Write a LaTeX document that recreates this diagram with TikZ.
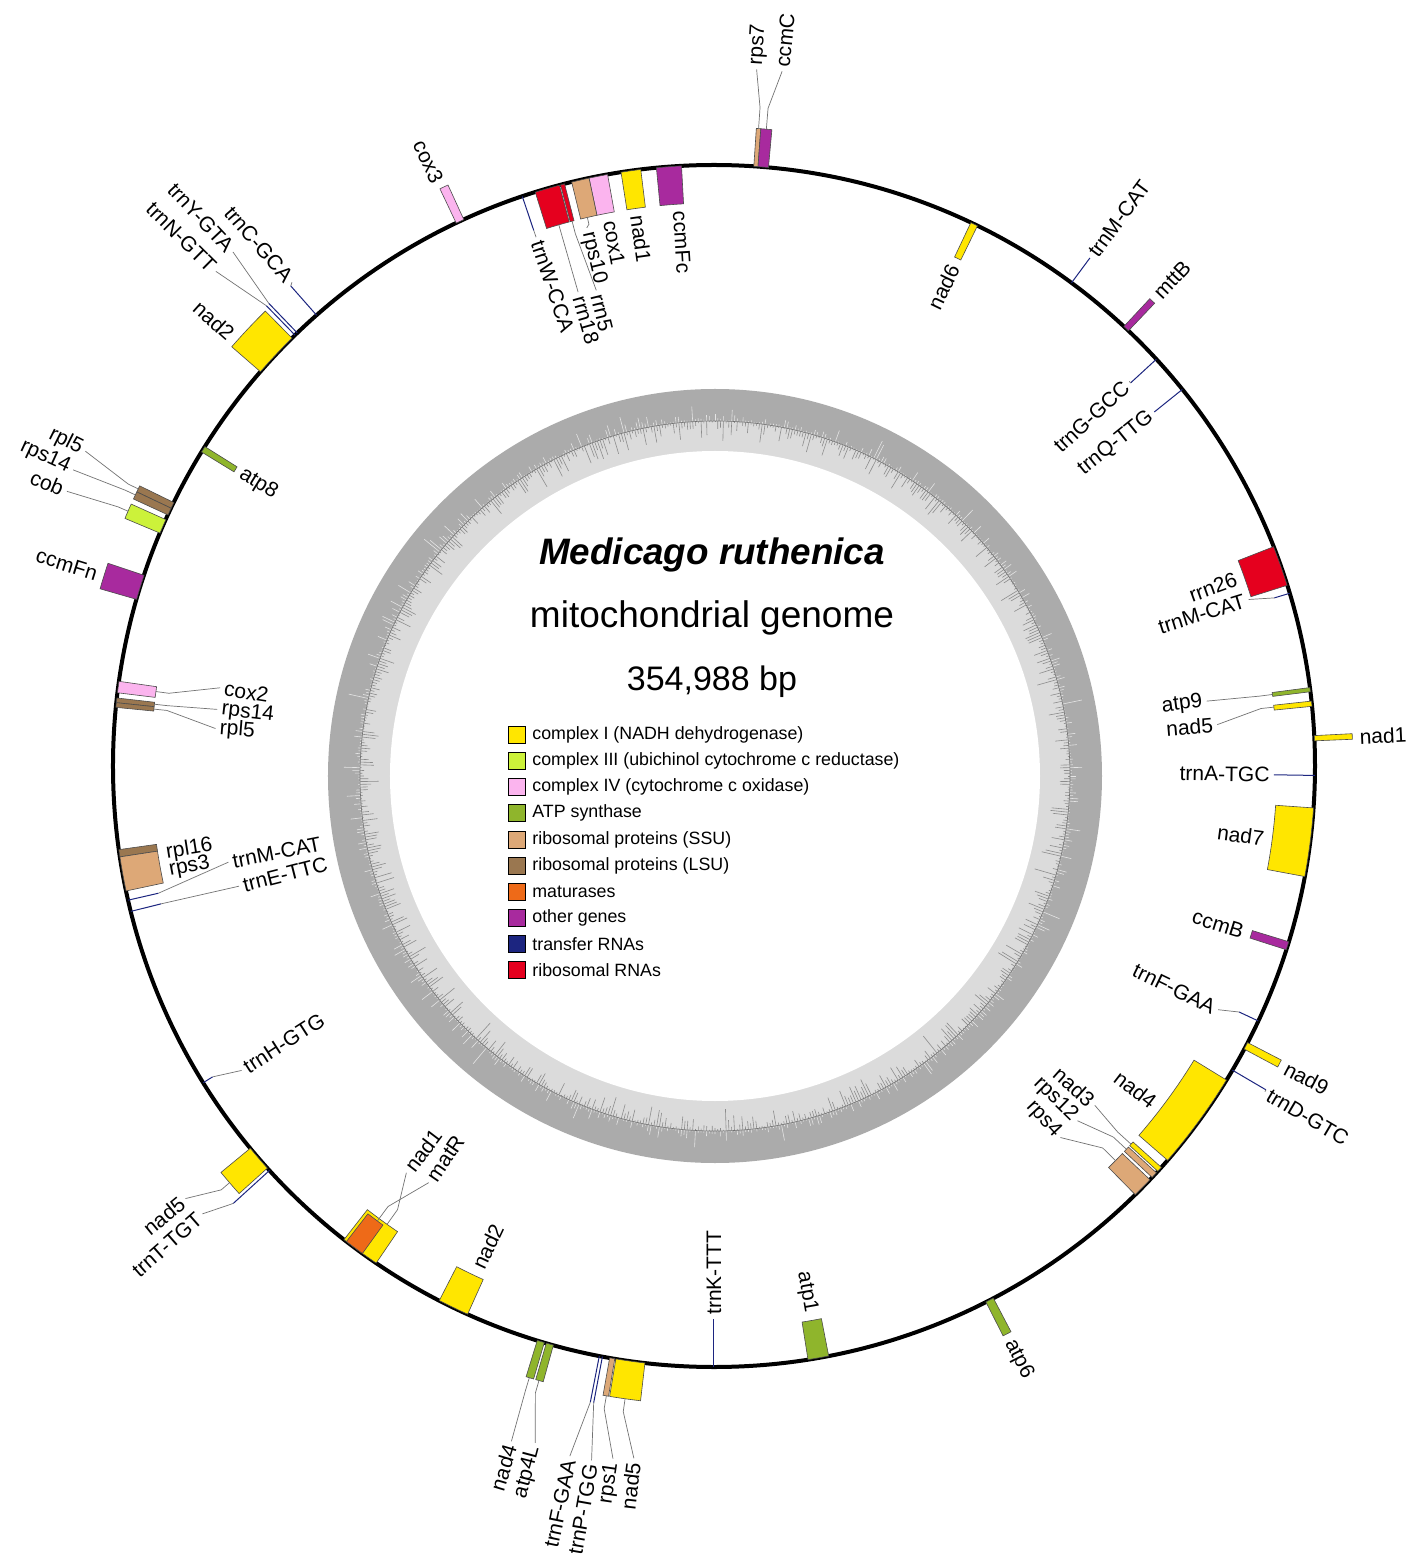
\documentclass[tikz,border=0pt]{standalone}
\usepackage{fontspec}
\setmainfont{Liberation Sans}
\definecolor{cI}{HTML}{FFE600}
\definecolor{cIII}{HTML}{CCF23A}
\definecolor{cIV}{HTML}{FBB4EE}
\definecolor{cATP}{HTML}{8FB52C}
\definecolor{cSSU}{HTML}{DDA877}
\definecolor{cLSU}{HTML}{9A7750}
\definecolor{cMAT}{HTML}{EE6A18}
\definecolor{cOTH}{HTML}{A82A9E}
\definecolor{cTRN}{HTML}{1C2580}
\definecolor{cRRN}{HTML}{E5001E}
\newcount\labn
\newcommand{\gb}[5]{%
 \pgfmathsetmacro\gA{90-(#1)}\pgfmathsetmacro\gB{90-(#2)}%
 \filldraw[fill=#3, draw=black!70, line width=0.3pt] (\gA:#4) arc[start angle=\gA, end angle=\gB, radius={#4*0.5pt}] -- (\gB:#5) arc[start angle=\gB, end angle=\gA, radius={#5*0.5pt}] -- cycle;}
\newcommand{\gl}[3]{\pgfmathsetmacro\gA{90-(#1)}\draw[trna] (\gA:#2) -- (\gA:#3);}
\newcommand{\glabc}[8]{%
 \pgfmathsetmacro\gA{90-(#1)}\pgfmathsetmacro\lphi{90-(#4)}%
 \draw[leader] (\gA:#2) -- (\gA:#3) -- (\lphi:#5);
 \global\advance\labn by 1
 \pgfmathsetmacro\lr{#5+#7}%
 \pgfmathtruncatemacro\isleft{((#4<0) || (#4>=180)) ? 1 : 0}%
 \ifnum\isleft=1 \pgfmathsetmacro\lrot{\lphi+180}\else \let\lrot\lphi\fi
 \ifnum\isleft=#8 \def\lanc{east}\else \def\lanc{west}\fi
 \node[glabel, anchor=\lanc, rotate=\lrot] (lab\the\labn) at (\lphi:\lr) {#6};}
\newcommand{\ilab}[6]{\glabc{#1}{#2}{#3}{#4}{#5}{#6}{-3}{0}}
\newcommand{\olab}[6]{\glabc{#1}{#2}{#3}{#4}{#5}{#6}{3}{1}}
\begin{document}
\begin{tikzpicture}[x=0.5pt,y=0.5pt,
  trna/.style={draw=cTRN, line width=0.5pt},
  leader/.style={draw=black!55, line width=0.35pt},
  glabel/.style={inner sep=0.5pt, font=\fontsize{10.5}{12}\selectfont},
  legbox/.style={draw=black, line width=0.4pt, minimum size=8.5pt, inner sep=0pt},
  legtext/.style={anchor=west, inner sep=0pt, font=\fontsize{8.9}{10}\selectfont}]
\useasboundingbox (-714,-797) rectangle (703,766);
\fill[white] (-714,-797) rectangle (703,766);
% GC ring
\begin{scope}[shift={(1,-10)}]
\fill[black!33] (0,0) circle[radius=193.5pt];
\fill[black!14] (0,0) circle[radius=177.5pt];
\pgfmathsetseed{11}
\foreach \a in {0,0.45,...,359.6}{
  \pgfmathsetmacro\lo{1+rnd*rnd*rnd*22}\pgfmathsetmacro\li{1+rnd*rnd*24}
  \draw[black!10, line width=0.3pt] (\a:355) -- (\a:{355+\lo});
  \draw[black!45, line width=0.3pt] (\a:355) -- (\a:{355-\li});
}
\draw[black!55, line width=0.3pt] (0,0) circle[radius=177.5pt];
\fill[white] (0,0) circle[radius=162.5pt];
\end{scope}
% main circle
\draw[line width=2pt] (0,0) circle[radius=300.5pt];
% inside genes
\gb{-3.1}{-5.5}{cOTH}{563}{601}
\gb{-7.0}{-8.9}{cI}{563}{601}
\gb{-10.2}{-12.0}{cIV}{563}{601}
\gb{-12.0}{-13.7}{cSSU}{563}{601}
\gb{-14.4}{-14.8}{cRRN}{563}{601}
\gb{-14.9}{-17.3}{cRRN}{563}{601}
\gl{-18.6}{601}{565}
\gb{-57.9}{-58.5}{cATP}{563}{601}
\gb{-81.9}{-83.0}{cIV}{563}{601}
\gb{-83.5}{-83.95}{cLSU}{563}{601}
\gb{-83.95}{-84.4}{cLSU}{563}{601}
\gb{-98.0}{-98.7}{cLSU}{563}{601}
\gb{-98.7}{-102.0}{cSSU}{563}{601}
\gl{-102.9}{601}{570}
\gl{-104.0}{601}{570}
\gl{-121.8}{601}{590}
\gb{-142.0}{-145.8}{cI}{563}{601}
\gb{-142.3}{-144.2}{cMAT}{566}{601}
\gb{-152.8}{-155.8}{cI}{563}{601}
\gl{-180}{601}{553}
\gb{169.0}{171.0}{cATP}{563}{601}
\gb{121.5}{131.0}{cI}{563}{601}
\gb{131.9}{132.4}{cI}{563}{601}
\gb{132.6}{133.2}{cSSU}{563}{601}
\gb{133.5}{135.5}{cSSU}{563}{601}
\gb{107.0}{107.8}{cOTH}{563}{601}
\gl{115.1}{601}{580}
\gb{94.0}{100.6}{cI}{563}{601}
\gl{90.9}{601}{560}
\gb{83.8}{84.3}{cI}{563}{601}
\gb{82.5}{82.9}{cATP}{563}{601}
\gl{73.3}{601}{585}
\gb{68.6}{72.5}{cRRN}{563}{601}
\gl{47.4}{601}{566}
\gl{51.2}{601}{565}
\gb{25.3}{26.0}{cI}{563}{601}
% outside genes
\gb{-24.6}{-25.4}{cIV}{601}{639}
\gb{3.8}{4.2}{cSSU}{601}{639}
\gb{4.2}{5.2}{cOTH}{601}{639}
\gl{36.5}{601}{632}
\gb{43.0}{43.6}{cOTH}{601}{639}
\gb{87.1}{87.6}{cI}{601}{639}
\gb{117.4}{118.1}{cI}{601}{639}
\gl{120.4}{601}{640}
\gb{152.3}{153.1}{cATP}{601}{639}
\gb{-170.6}{-173.4}{cI}{601}{639}
\gb{-170.0}{-170.5}{cSSU}{601}{639}
\gl{-169.0}{601}{648}
\gl{-169.3}{601}{648}
\gb{-163.8}{-164.5}{cATP}{601}{639}
\gb{-162.9}{-163.6}{cATP}{601}{639}
\gb{-129.5}{-132.0}{cI}{601}{639}
\gl{-132.3}{601}{650}
\gb{-44.6}{-49.0}{cI}{601}{639}
\gl{-43.9}{601}{642}
\gl{-44.2}{601}{642}
\gl{-41.4}{601}{640}
\gb{-64.0}{-64.6}{cLSU}{601}{639}
\gb{-64.6}{-65.3}{cLSU}{601}{639}
\gb{-65.8}{-67.2}{cIII}{601}{639}
\gb{-71.5}{-73.9}{cOTH}{601}{639}
% inside labels
\ilab{-3.5}{560}{560}{-3.5}{560}{ccmFc}
\ilab{-7.9}{560}{560}{-7.9}{560}{nad1}
\ilab{-10.8}{559}{559}{-10.8}{559}{cox1}
\ilab{-13.0}{563}{556}{-13.3}{553}{rps10}
\ilab{-14.6}{563}{550}{-13.9}{490}{rrn5}
\ilab{-16.0}{563}{550}{-16.0}{493}{rrn18}
\ilab{-18.6}{565}{565}{-18.6}{558}{trnW-CCA}
\ilab{-58.2}{561}{561}{-58.2}{561}{atp8}
\ilab{-82.4}{563}{550}{-81.0}{500}{cox2}
\ilab{-83.7}{563}{550}{-83.5}{500}{rps14}
\ilab{-84.2}{563}{550}{-85.7}{500}{rpl5}
\ilab{-99.0}{559}{559}{-99.0}{559}{rpl16}
\ilab{-100.9}{559}{559}{-100.9}{559}{rps3}
\ilab{-102.9}{570}{570}{-101.2}{495}{trnM-CAT}
\ilab{-104.0}{570}{570}{-104.2}{490}{trnE-TTC}
\ilab{-121.8}{590}{590}{-122.8}{562}{trnH-GTG}
\ilab{-144.5}{563}{545}{-142.9}{510}{nad1}
\ilab{-143.5}{566}{548}{-145.6}{505}{matR}
\ilab{-154.8}{559}{559}{-154.8}{559}{nad2}
\ilab{-180}{553}{553}{-180}{553}{trnK-TTT}
\ilab{170.0}{559}{559}{170.0}{559}{atp1}
\ilab{127.5}{559}{559}{127.5}{559}{nad4}
\ilab{132.2}{563}{545}{131.7}{510}{nad3}
\ilab{132.9}{563}{545}{134.3}{508}{rps12}
\ilab{134.5}{563}{545}{137.0}{508}{rps4}
\ilab{107.4}{559}{559}{107.4}{559}{ccmB}
\ilab{115.1}{580}{580}{115.8}{560}{trnF-GAA}
\ilab{97.5}{559}{559}{97.5}{559}{nad7}
\ilab{90.9}{560}{560}{90.9}{560}{trnA-TGC}
\ilab{84.0}{563}{550}{85.3}{505}{nad5}
\ilab{82.7}{563}{550}{82.5}{497}{atp9}
\ilab{73.3}{585}{585}{72.7}{560}{trnM-CAT}
\ilab{70.3}{559}{559}{70.3}{559}{rrn26}
\ilab{47.4}{566}{566}{47.2}{566}{trnG-GCC}
\ilab{51.2}{565}{565}{51.2}{565}{trnQ-TTG}
\ilab{25.6}{559}{559}{25.6}{559}{nad6}
% outside labels
\olab{-25.3}{642}{642}{-25.3}{642}{cox3}
\olab{4.0}{639}{660}{3.5}{698}{rps7}
\olab{4.7}{639}{660}{5.6}{698}{ccmC}
\olab{36.5}{632}{632}{36.5}{632}{trnM-CAT}
\olab{43.3}{642}{642}{43.3}{642}{mttB}
\olab{87.4}{642}{642}{87.4}{642}{nad1}
\olab{117.8}{642}{642}{117.8}{642}{nad9}
\olab{120.4}{640}{640}{120.6}{640}{trnD-GTC}
\olab{152.8}{642}{642}{152.8}{642}{atp6}
\olab{-172.0}{639}{652}{-173.4}{697}{nad5}
\olab{-170.3}{639}{652}{-171.7}{700}{rps1}
\olab{-169.3}{648}{648}{-170.0}{705}{trnP-TGG}
\olab{-169.0}{648}{648}{-168.2}{705}{trnF-GAA}
\olab{-164.1}{639}{652}{-165.2}{700}{atp4L}
\olab{-163.2}{639}{652}{-163.3}{705}{nad4}
\olab{-130.7}{639}{650}{-129.3}{683}{nad5}
\olab{-132.3}{650}{650}{-131.2}{680}{trnT-TGT}
\olab{-48.3}{642}{642}{-48.3}{642}{nad2}
\olab{-44.2}{642}{642}{-45.2}{702}{trnN-GTT}
\olab{-43.9}{642}{642}{-43.1}{704}{trnY-GTA}
\olab{-41.4}{640}{640}{-41.1}{642}{trnC-GCA}
\olab{-64.3}{639}{650}{-63.4}{703}{rpl5}
\olab{-64.9}{639}{650}{-65.2}{706}{rps14}
\olab{-66.5}{639}{650}{-67.0}{703}{cob}
\olab{-72.7}{642}{642}{-72.7}{642}{ccmFn}
% title
\node[font=\fontsize{18.4}{22}\selectfont\bfseries\itshape] (title) at (-2,211) {Medicago ruthenica};
\node[font=\fontsize{18.5}{22}\selectfont] (sub) at (-2,148) {mitochondrial genome};
\node[font=\fontsize{17}{20}\selectfont] (size) at (-2,84) {354,988 bp};
% legend
\foreach \c/\t [count=\i] in {cI/{complex I (NADH dehydrogenase)},cIII/{complex III (ubichinol cytochrome c reductase)},cIV/{complex IV (cytochrome c oxidase)},cATP/{ATP synthase},cSSU/{ribosomal proteins (SSU)},cLSU/{ribosomal proteins (LSU)},cMAT/{maturases},cOTH/{other genes},cTRN/{transfer RNAs},cRRN/{ribosomal RNAs}}{
  \node[legbox, fill=\c] (lb\i) at (-197.5,{31-26.1*(\i-1)}) {};
  \node[legtext] (lt\i) at (-182,{31-26.1*(\i-1)}) {\t};
}
\end{tikzpicture}
\end{document}
